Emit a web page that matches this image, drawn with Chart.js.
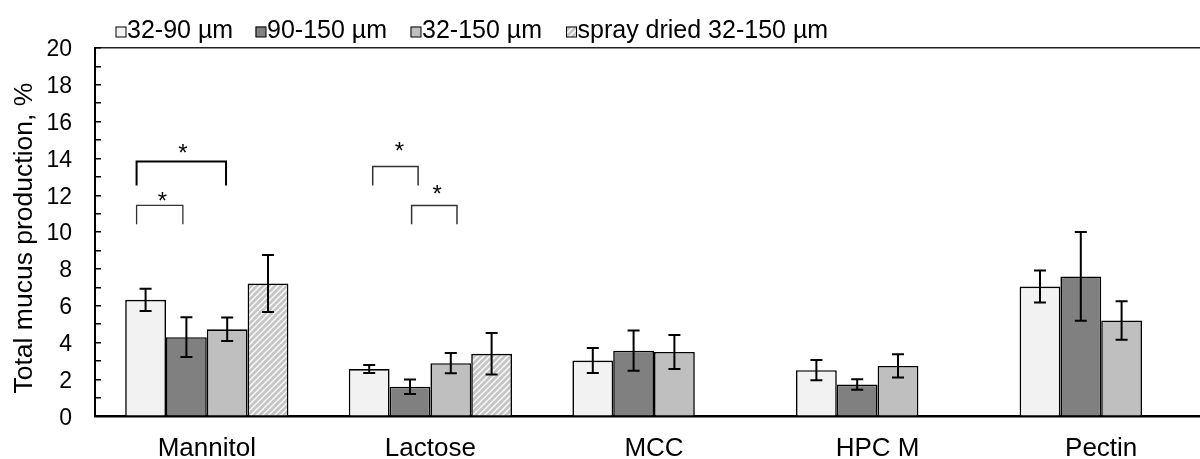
<!DOCTYPE html>
<html>
<head>
<meta charset="utf-8">
<script src="https://cdn.jsdelivr.net/npm/chart.js@4.4.0/dist/chart.umd.min.js"></script>
<style>
  html, body { margin: 0; padding: 0; background: #fff; overflow: hidden; }
  #wrap { position: relative; width: 1213px; height: 459px; }
</style>
</head>
<body>
<div id="wrap"><canvas id="myChart"></canvas></div>
<script>
var categories = ["Mannitol", "Lactose", "MCC", "HPC M", "Pectin"];
var seriesNames = ["32-90 µm", "90-150 µm", "32-150 µm", "spray dried 32-150 µm"];

var fine = [6.32, 2.56, 3.02, 2.50, 7.04];
var fineErr = [0.60, 0.22, 0.68, 0.55, 0.87];
var coarse = [4.29, 1.60, 3.56, 1.72, 7.59];
var coarseErr = [1.08, 0.40, 1.09, 0.29, 2.41];
var mixed = [4.72, 2.88, 3.49, 2.73, 5.20];
var mixedErr = [0.64, 0.55, 0.92, 0.63, 1.05];
var sprayDried = [7.21, 3.39, null, null, null];
var sprayDriedErr = [1.55, 1.13, null, null, null];

var yMin = 0, yMax = 20, yMinorStep = 1, yLabelStep = 2;
var yTitle = "Total mucus production, %";

// significance brackets: category, left/right end (in category widths), top and leg end (in %)
var brackets = [
    {cat: 0, from: -0.314, to: 0.086, top: 13.83, leg: 12.53},
    {cat: 0, from: -0.314, to: -0.107, top: 11.45, leg: 10.42},
    {cat: 1, from: -0.258, to: -0.055, top: 13.56, leg: 12.53},
    {cat: 1, from: -0.084, to: 0.119, top: 11.45, leg: 10.42}
];
var stars = [
    {cat: 0, at: -0.107, y: 14.62},
    {cat: 0, at: -0.199, y: 11.99},
    {cat: 1, at: -0.139, y: 14.73},
    {cat: 1, at: 0.030, y: 12.39}
];

var FONT = "'Liberation Sans', Arial, sans-serif";

function makeHatch(){
    var c = document.createElement("canvas");
    c.width = 6; c.height = 6;
    var g = c.getContext("2d");
    g.fillStyle = "#c6c6c6";
    g.fillRect(0, 0, 6, 6);
    g.strokeStyle = "#ffffff";
    g.lineWidth = 1.3;
    g.beginPath();
    g.moveTo(0, 6); g.lineTo(6, 0);
    g.moveTo(-1, 1); g.lineTo(1, -1);
    g.moveTo(5, 7); g.lineTo(7, 5);
    g.stroke();
    return g.createPattern(c, "repeat");
}

var hatch = makeHatch();
var fills = ["#f2f2f2", "#808080", "#bfbfbf", hatch];
var values = [fine, coarse, mixed, sprayDried];
var errors = [fineErr, coarseErr, mixedErr, sprayDriedErr];

var errorBars = {
    id: "errorBars",
    afterDatasetsDraw: function(chart){
        var ctx = chart.ctx, y = chart.scales.y;
        ctx.save();
        ctx.strokeStyle = "#000";
        ctx.lineWidth = 2;
        chart.data.datasets.forEach(function(ds, i){
            var meta = chart.getDatasetMeta(i);
            meta.data.forEach(function(bar, j){
                var v = ds.data[j], e = errors[i][j];
                if (v == null || e == null) return;
                var top = y.getPixelForValue(v + e), bot = y.getPixelForValue(v - e);
                ctx.beginPath();
                ctx.moveTo(bar.x, top); ctx.lineTo(bar.x, bot);
                ctx.moveTo(bar.x - 6, top); ctx.lineTo(bar.x + 6, top);
                ctx.moveTo(bar.x - 6, bot); ctx.lineTo(bar.x + 6, bot);
                ctx.stroke();
            });
        });
        ctx.restore();
    }
};

var bracketWidths = [2, 1.3, 1.5, 1.5];

var significance = {
    id: "significance",
    afterDatasetsDraw: function(chart){
        var ctx = chart.ctx, x = chart.scales.x, y = chart.scales.y;
        var w = x.getPixelForValue(1) - x.getPixelForValue(0);
        ctx.save();
        brackets.forEach(function(b, i){
            var c = x.getPixelForValue(b.cat);
            var x1 = c + b.from * w, x2 = c + b.to * w;
            var yt = y.getPixelForValue(b.top), yl = y.getPixelForValue(b.leg);
            ctx.strokeStyle = i == 0 ? "#000" : "#333";
            ctx.lineWidth = bracketWidths[i];
            ctx.beginPath();
            ctx.moveTo(x1, yl); ctx.lineTo(x1, yt); ctx.lineTo(x2, yt); ctx.lineTo(x2, yl);
            ctx.stroke();
        });
        ctx.fillStyle = "#000";
        ctx.font = "24px " + FONT;
        ctx.textAlign = "center";
        ctx.textBaseline = "alphabetic";
        stars.forEach(function(s){
            var px = x.getPixelForValue(s.cat) + s.at * w;
            ctx.fillText("*", px, y.getPixelForValue(s.y) + 14);
        });
        ctx.restore();
    }
};

var legendStarts = [115.5, 255.5, 410.5, 566];

// legend row above the plot and the rotated y title
var topLegend = {
    id: "topLegend",
    afterDraw: function(chart){
        var ctx = chart.ctx, area = chart.chartArea;
        ctx.save();
        ctx.font = "25px " + FONT;
        ctx.textBaseline = "alphabetic";
        ctx.textAlign = "left";
        chart.data.datasets.forEach(function(ds, i){
            var bx = legendStarts[i];
            ctx.fillStyle = ds.backgroundColor;
            ctx.fillRect(bx, 26.5, 10.5, 10.5);
            ctx.strokeStyle = "#000";
            ctx.lineWidth = 1;
            ctx.strokeRect(bx + 0.5, 27, 10, 10);
            ctx.fillStyle = "#000";
            ctx.fillText(ds.label, bx + 11.5, 38);
        });

        ctx.translate(25, (area.top + area.bottom) / 2 + 6);
        ctx.rotate(-Math.PI / 2);
        ctx.font = "26.5px " + FONT;
        ctx.textAlign = "center";
        ctx.textBaseline = "middle";
        ctx.fillText(yTitle, 0, 0);
        ctx.restore();
    }
};

function initChart(){
    var datasets = values.map(function(v, i){
        return {
            label: seriesNames[i],
            data: v,
            backgroundColor: fills[i],
            borderColor: "#000",
            borderWidth: 1.6,
            borderSkipped: "bottom",
            categoryPercentage: 0.73,
            barPercentage: 1.0
        };
    });

    new Chart(document.getElementById("myChart"), {
        type: "bar",
        data: { labels: categories, datasets: datasets },
        options: {
            responsive: true,
            maintainAspectRatio: false,
            animation: false,
            layout: { padding: { top: 48, right: 0, left: 0, bottom: 0 } },
            plugins: {
                legend: { display: false },
                tooltip: { enabled: false }
            },
            scales: {
                x: {
                    afterFit: function(scale){ scale.height = 40.5; },
                    grid: { display: false },
                    border: { display: true, color: "#000", width: 2.5 },
                    ticks: {
                        color: "#000",
                        font: { family: FONT, size: 26 },
                        padding: 9,
                        maxRotation: 0,
                        autoSkip: false
                    }
                },
                y: {
                    min: yMin,
                    max: yMax,
                    afterFit: function(scale){ scale.width = 95; },
                    grid: {
                        drawOnChartArea: true,
                        drawTicks: true,
                        tickLength: -6,
                        tickColor: "#000",
                        tickWidth: 1.5,
                        lineWidth: 1.5,
                        color: function(c){ return c.tick && c.tick.value == yMax ? "#222" : "rgba(0,0,0,0)"; }
                    },
                    border: { display: true, color: "#000", width: 2 },
                    ticks: {
                        stepSize: yMinorStep,
                        autoSkip: false,
                        color: "#000",
                        padding: 29,
                        labelOffset: 2,
                        font: { family: FONT, size: 23 },
                        callback: function(v){ return v % yLabelStep == 0 ? v : ""; }
                    }
                }
            }
        },
        plugins: [errorBars, significance, topLegend]
    });
}

initChart();
</script>
</body>
</html>
